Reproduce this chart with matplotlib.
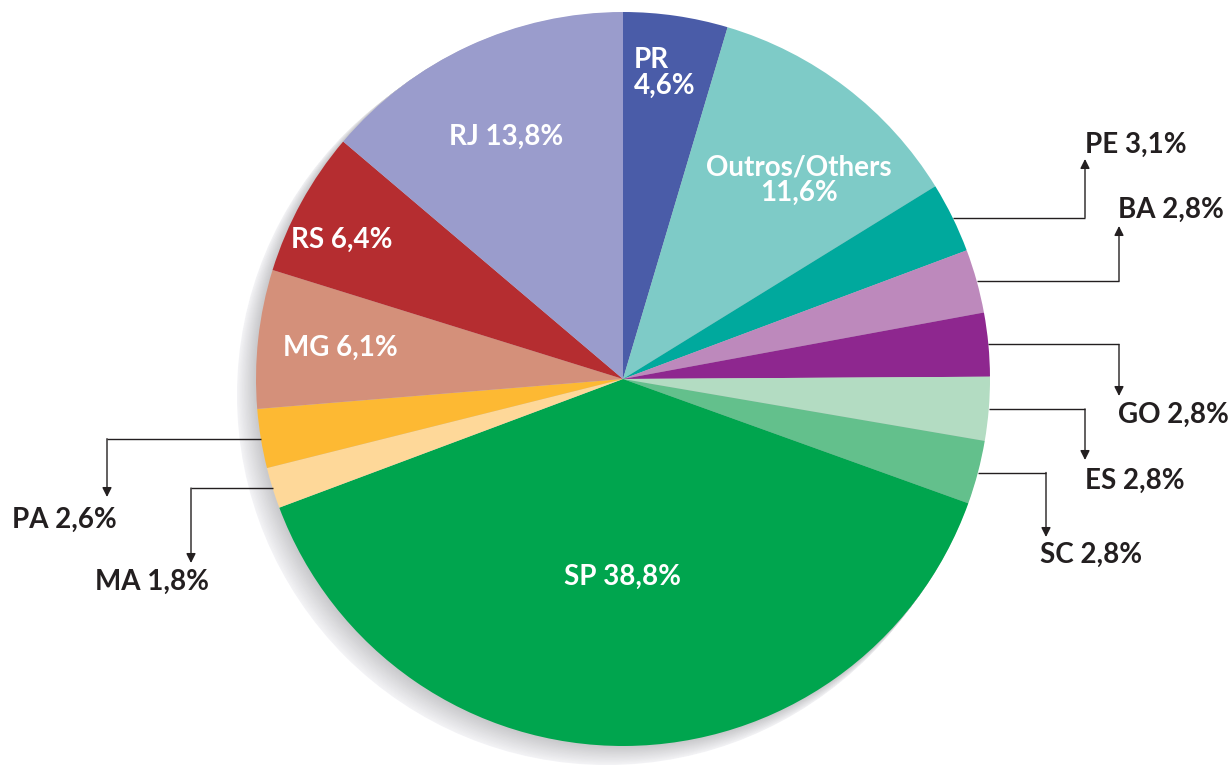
import numpy as np
import matplotlib
matplotlib.use("Agg")
import matplotlib.pyplot as plt
from matplotlib.patches import Circle

# share by state, clockwise from the top
states = ["PR", "Outros/Others", "PE", "BA", "GO", "ES", "SC",
          "SP", "MA", "PA", "MG", "RS", "RJ"]
shares = [4.6, 11.6, 3.1, 2.8, 2.8, 2.8, 2.8,
          38.8, 1.8, 2.6, 6.1, 6.4, 13.8]
colors = ["#4a5ca8", "#7ecbc7", "#00a99d", "#bd89bc", "#8e278f", "#b3dcc2", "#63c08c",
          "#00a54e", "#fed899", "#fdb933", "#d4907a", "#b52d30", "#9a9ccc"]

W, H = 1230, 765
cx, cy, R = 623, H - 379, 367
dark = "#231f20"
fs = 20
plt.rcParams['font.family'] = ['Lato', 'DejaVu Sans']

fig = plt.figure(figsize=(W / 100, H / 100), dpi=100)
ax = fig.add_axes([0, 0, 1, 1])

# soft shadow down-left of the pie
n = 16
for i in range(n, 0, -1):
    t = i / n
    g = 0.78 + 0.17 * t
    ax.add_patch(Circle((cx - 16 * t, cy - 16 * t), R + 3 * t,
                        color=(g, g, g + 0.01), lw=0, zorder=0))

wedges, _ = ax.pie(shares, colors=colors, startangle=90, counterclock=False,
                   center=(cx, cy), radius=R, frame=True,
                   wedgeprops=dict(linewidth=0))
ax.set_xlim(0, W)
ax.set_ylim(0, H)
ax.set_aspect("equal")
ax.axis("off")

inner = dict(color="white", fontsize=fs, fontweight="bold", zorder=5)
ax.text(634, H - 60, "PR", ha="left", va="center", **inner)
ax.text(634, H - 86, "4,6%", ha="left", va="center", **inner)
ax.text(799, H - 167, "Outros/Others", ha="center", va="center", **inner)
ax.text(799, H - 193, "11,6%", ha="center", va="center", **inner)
inside = {"RJ": (506, 137), "RS": (342, 240), "MG": (340, 348), "SP": (623, 577)}
for name, (x, y) in inside.items():
    v = shares[states.index(name)]
    ax.text(x, H - y, f"{name} {v:.1f}%".replace(".", ","),
            ha="center", va="center", **inner)

# outer labels: (elbow x, arrow tip y, label left x, label y)
outer = {
    "PE": (1085, 159, 1085, 145),
    "BA": (1119, 226, 1118, 210),
    "GO": (1119, 396, 1118, 415),
    "ES": (1085, 460, 1085, 481),
    "SC": (1046, 537, 1040, 555),
    "PA": (107, 497, 12, 520),
    "MA": (191, 563, 95, 582),
}
for name, (ex, tip, lx, ly) in outer.items():
    w = wedges[states.index(name)]
    mid = np.deg2rad((w.theta1 + w.theta2) / 2)
    sx = cx + R * np.cos(mid)
    sy = cy + R * np.sin(mid)
    ax.plot([sx, ex], [sy, sy], color=dark, lw=1, zorder=6, solid_capstyle="butt")
    ax.annotate("", xy=(ex, H - tip), xytext=(ex, sy),
                arrowprops=dict(arrowstyle="-|>", color=dark, lw=1,
                                mutation_scale=14, shrinkA=0, shrinkB=0),
                zorder=6)
    v = shares[states.index(name)]
    ax.text(lx, H - ly, f"{name} {v:.1f}%".replace(".", ","), ha="left", va="center",
            color=dark, fontsize=fs, fontweight="bold", zorder=6)

fig.savefig("out.png", dpi=100, facecolor="white")
